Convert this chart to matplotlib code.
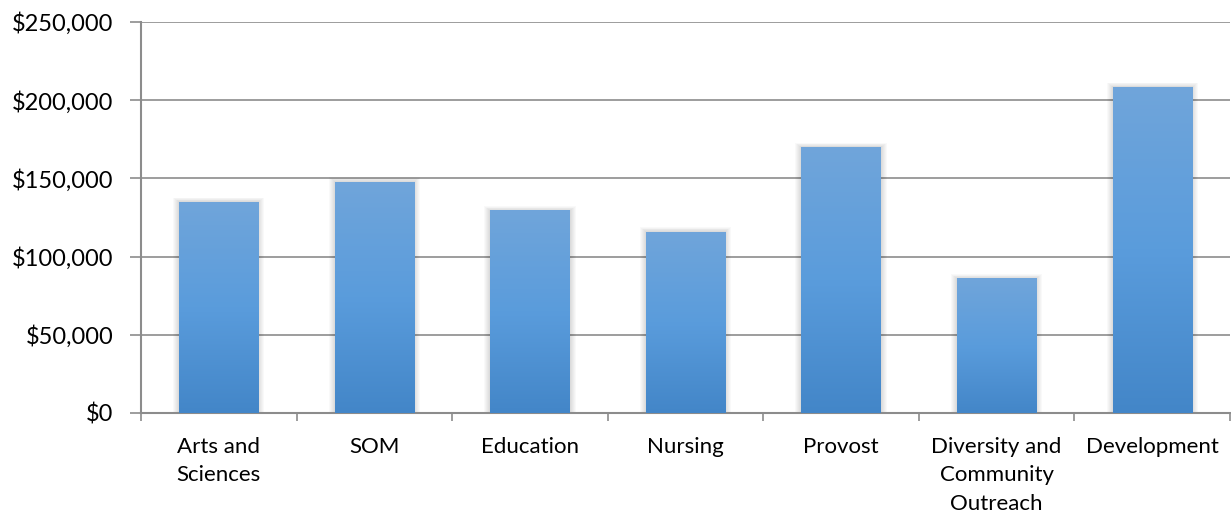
import numpy as np
import matplotlib
matplotlib.use("Agg")
import matplotlib.pyplot as plt
from matplotlib.patches import Rectangle
from matplotlib.colors import LinearSegmentedColormap
from matplotlib.ticker import FuncFormatter, MultipleLocator, FixedLocator

categories = ["Arts and\nSciences", "SOM", "Education", "Nursing", "Provost",
              "Diversity and\nCommunity\nOutreach", "Development"]
values = [135000, 148000, 129500, 116000, 170000, 86000, 208500]

plt.rcParams['font.family'] = ['Lato', 'DejaVu Sans']

fig = plt.figure(figsize=(12.31, 5.16), dpi=100)
ax = fig.add_axes([141/1231, 1-413/516, 1-141/1231-1/1231, (413-22)/516])

n = len(categories)
x = np.arange(n)
width = 0.51
cmap = LinearSegmentedColormap.from_list("g", ["#4386C8", "#5A9CDC", "#70A5DA"])
grad = np.linspace(0, 1, 256).reshape(-1, 1)

ax.set_xlim(-0.5, n - 0.5)
ax.set_ylim(0, 250000)

px_x = n / 1090.0
px_y = 250000 / 391.0
for xi, v in zip(x, values):
    # soft shadow
    for k in range(1, 7):
        ax.add_patch(Rectangle((xi - width/2 - k*px_x, 0), width + 2*k*px_x, v + k*px_y*0.7,
                               facecolor="black", alpha=0.025, edgecolor="none", zorder=2))
    r = Rectangle((xi - width/2, 0), width, v, facecolor="none", edgecolor="none", zorder=3)
    ax.add_patch(r)
    im = ax.imshow(grad, cmap=cmap, aspect="auto", origin="lower",
                   extent=(xi - width/2, xi + width/2, 0, v), zorder=3)
    im.set_clip_path(r)

ax.set_xlim(-0.5, n - 0.5)
ax.set_ylim(0, 250000)

ax.yaxis.set_major_locator(MultipleLocator(50000))
ax.yaxis.set_major_formatter(FuncFormatter(lambda v, p: "${:,.0f}".format(v)))
ax.grid(axis="y", color="#8C8C8C", linewidth=1.2, zorder=1)
ax.set_axisbelow(True)

ax.set_xticks(x)
ax.set_xticklabels(categories, fontsize=16, va="top", linespacing=1.55)
ax.xaxis.set_minor_locator(FixedLocator(np.arange(-0.5, n, 1)))
ax.tick_params(axis="x", which="major", length=0, pad=17)
ax.tick_params(axis="x", which="minor", length=6, color="#8C8C8C", width=1.2)
ax.tick_params(axis="y", length=8, color="#8C8C8C", width=1.2, labelsize=17, pad=12)

for s in ["top", "right"]:
    ax.spines[s].set_visible(False)
for s in ["left", "bottom"]:
    ax.spines[s].set_color("#8C8C8C")
    ax.spines[s].set_linewidth(1.5)

fig.savefig("out.png", dpi=100)
